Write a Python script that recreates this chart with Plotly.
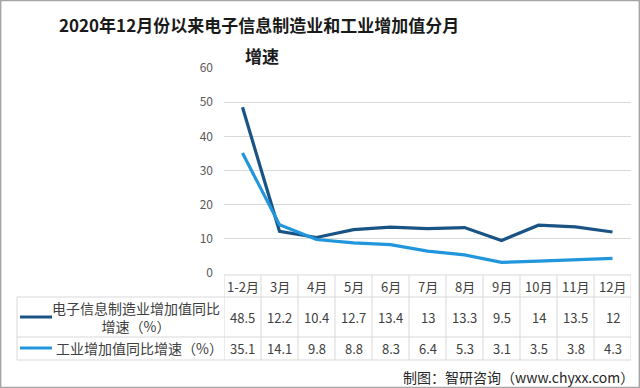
import plotly.graph_objects as go

categories = ["1-2月", "3月", "4月", "5月", "6月", "7月", "8月", "9月", "10月", "11月", "12月"]
series_names = ["电子信息制造业增加值同比<br>增速（%）", "工业增加值同比增速（%）"]
electronics = [48.5, 12.2, 10.4, 12.7, 13.4, 13, 13.3, 9.5, 14, 13.5, 12]
industry = [35.1, 14.1, 9.8, 8.8, 8.3, 6.4, 5.3, 3.1, 3.5, 3.8, 4.3]
y_ticks = [0, 10, 20, 30, 40, 50, 60]
title_lines = ["2020年12月份以来电子信息制造业和工业增加值分月", "增速"]
source_text = "制图：智研咨询（www.chyxx.com）"

W, H = 640, 388
colors = ["#1a5485", "#2196dc"]
FONT = "Noto Sans CJK SC"
grid = "#d9d9d9"

def py(p):
    return (H - p) / H

fig = go.Figure()
xs = list(range(len(categories)))
for vals, c in zip([electronics, industry], colors):
    fig.add_trace(go.Scatter(x=xs, y=vals, mode="lines",
                             line=dict(color=c, width=3.2), showlegend=False,
                             hoverinfo="skip"))

x0p, x1p = 224 / W, 631 / W
fig.update_layout(
    width=W, height=H, autosize=False,
    margin=dict(l=0, r=0, t=0, b=0, pad=0),
    paper_bgcolor="white", plot_bgcolor="white",
    showlegend=False,
    xaxis=dict(domain=[x0p, x1p], range=[-0.5, len(categories) - 0.5],
               showgrid=False, zeroline=False, showticklabels=False, fixedrange=True,
               automargin=False),
    yaxis=dict(domain=[py(273), py(68)], range=[0, 60], tickvals=y_ticks,
               showgrid=True, gridcolor=grid, gridwidth=1, zeroline=False,
               tickfont=dict(family=FONT, size=12, color="#595959"),
               ticks="", ticklabelstandoff=10, showline=False, automargin=False),
    font=dict(family=FONT),
)

shapes = []
ann = []
row_y = [275, 297, 337, 360]
shapes.append(dict(type="line", xref="x", yref="paper", x0=-0.5, x1=len(categories) - 0.5,
                   y0=py(275), y1=py(275), line=dict(color=grid, width=1)))
for yy in row_y[1:]:
    shapes.append(dict(type="line", xref="paper", yref="paper", x0=17 / W, x1=x1p,
                       y0=py(yy), y1=py(yy), line=dict(color=grid, width=1)))
for i in range(len(categories) + 1):
    shapes.append(dict(type="line", xref="x", yref="paper", x0=i - 0.5, x1=i - 0.5,
                       y0=py(275), y1=py(360), line=dict(color=grid, width=1)))
shapes.append(dict(type="line", xref="paper", yref="paper", x0=17 / W, x1=17 / W,
                   y0=py(297), y1=py(360), line=dict(color=grid, width=1)))
for cy, c in zip([317, 348], colors):
    shapes.append(dict(type="line", xref="paper", yref="paper", x0=20 / W, x1=52 / W,
                       y0=py(cy), y1=py(cy), line=dict(color=c, width=3)))
shapes.append(dict(type="rect", xref="paper", yref="paper", x0=0.001, x1=0.999, y0=0.001, y1=0.999,
                   line=dict(color="#a6a6a6", width=1.5)))

def A(x, y, text, size, color="#404040", xref="paper", xanchor="center", bold=False, align="center"):
    return dict(x=x, y=y, xref=xref, yref="paper", text=("<b>" + text + "</b>") if bold else text,
                showarrow=False, xanchor=xanchor, yanchor="middle", align=align,
                font=dict(family=FONT, size=size, color=color))

for i, c in enumerate(categories):
    ann.append(A(i, py(286), c, 13, xref="x"))
    ann.append(A(i, py(317), f"{electronics[i]:g}", 13, xref="x"))
    ann.append(A(i, py(348), f"{industry[i]:g}", 13, xref="x"))

ann.append(A((54 + 218) / 2 / W, py(317), series_names[0], 14))
ann.append(A(54 / W, py(348), series_names[1], 14, xanchor="left"))
ann.append(A(259 / W, py(25), title_lines[0], 17, color="#1a1a1a", bold=True))
ann.append(A(262 / W, py(55), title_lines[1], 17, color="#1a1a1a", bold=True))
ann.append(A(636 / W, py(377), source_text, 14, color="#262626", xanchor="right"))

fig.update_layout(shapes=shapes, annotations=ann)
fig.write_html("out.html")
